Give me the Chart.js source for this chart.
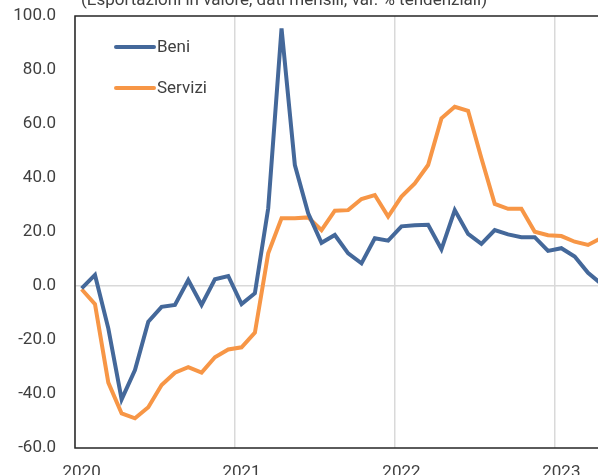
<!DOCTYPE html>
<html>
<head>
<meta charset="utf-8">
<script src="https://cdn.jsdelivr.net/npm/chart.js@4.4.1/dist/chart.umd.min.js"></script>
<style>
  html, body { margin: 0; padding: 0; background: #fff; overflow: hidden; width: 598px; height: 475px; }
  #wrap { position: absolute; left: 0; top: 0; width: 640px; height: 475px; }
</style>
</head>
<body>
<div id="wrap"><canvas id="chart" width="640" height="475"></canvas></div>
<script>
// monthly, Jan 2020 .. Apr 2023
const years = ['2020', '2021', '2022', '2023'];
const months = [];
years.forEach(y => { for (let m = 1; m <= 12; m++) months.push(y + '-' + String(m).padStart(2, '0')); });
months.length = 40;

const beni = [
  -0.9, 4.1, -15.7, -42.0, -31.1, -13.2, -7.7, -7.0, 2.2, -7.0, 2.5, 3.7,
  -6.7, -2.7, 28.8, 95.4, 44.8, 26.9, 16.0, 18.9, 12.1, 8.4, 17.7, 16.8,
  22.1, 22.5, 22.7, 13.6, 28.1, 19.3, 15.6, 20.7, 19.1, 18.1, 18.1, 13.0,
  14.0, 10.9, 4.9, 0.8
];
const servizi = [
  -1.2, -6.7, -35.8, -47.2, -49.0, -44.9, -36.7, -32.1, -30.1, -32.1, -26.4, -23.5,
  -22.7, -17.3, 12.1, 25.1, 25.1, 25.4, 20.7, 27.9, 28.1, 32.2, 33.7, 25.7,
  33.1, 38.0, 44.8, 62.1, 66.4, 64.9, 47.3, 30.4, 28.6, 28.6, 20.1, 18.8,
  18.5, 16.4, 15.2, 17.8
];
const titleText = '(Esportazioni in valore, dati mensili; var. % tendenziali)';

const BLUE = '#44689a';
const ORANGE = '#f79646';
const TEXT = '#404040';
const GRID = '#d9d9d9';
const FONT = 'Roboto, "Liberation Sans", sans-serif';

// title sits mostly above the canvas top, like in the cropped original
const titlePlugin = {
  id: 'cropTitle',
  afterDraw(chart) {
    const ctx = chart.ctx;
    ctx.save();
    ctx.fillStyle = TEXT;
    ctx.font = '17px ' + FONT;
    ctx.textAlign = 'left';
    ctx.textBaseline = 'alphabetic';
    ctx.fillText(titleText, 81, 5);
    ctx.restore();
  }
};

// legend drawn inside the plot, top-left
const innerLegend = {
  id: 'innerLegend',
  afterDraw(chart) {
    const ctx = chart.ctx;
    const a = chart.chartArea;
    ctx.save();
    ctx.font = '17px ' + FONT;
    ctx.textBaseline = 'middle';
    chart.data.datasets.forEach((ds, i) => {
      const y = a.top + 31 + i * 41;
      const x0 = a.left + 41;
      ctx.strokeStyle = ds.borderColor;
      ctx.lineWidth = 4;
      ctx.lineCap = 'round';
      ctx.beginPath();
      ctx.moveTo(x0, y);
      ctx.lineTo(x0 + 38, y);
      ctx.stroke();
      ctx.fillStyle = TEXT;
      ctx.fillText(ds.label, x0 + 41, y + 1);
    });
    ctx.restore();
  }
};

// full box around the plot area
const plotBox = {
  id: 'plotBox',
  beforeDatasetsDraw(chart) {
    const ctx = chart.ctx;
    const a = chart.chartArea;
    ctx.save();
    ctx.strokeStyle = '#262626';
    ctx.lineWidth = 1.5;
    ctx.strokeRect(a.left, a.top, a.right - a.left, a.bottom - a.top);
    ctx.restore();
  }
};

new Chart(document.getElementById('chart'), {
  type: 'line',
  data: {
    labels: months,
    datasets: [
      { label: 'Beni', data: beni, borderColor: BLUE, backgroundColor: BLUE, borderWidth: 4, pointRadius: 0, tension: 0 },
      { label: 'Servizi', data: servizi, borderColor: ORANGE, backgroundColor: ORANGE, borderWidth: 4, pointRadius: 0, tension: 0 }
    ]
  },
  options: {
    responsive: false,
    animation: false,
    layout: { padding: { top: 16, right: 32, left: 0, bottom: 0 } },
    plugins: { legend: { display: false }, tooltip: { enabled: false }, title: { display: false } },
    scales: {
      x: {
        type: 'category',
        offset: true,
        border: { display: false },
        grid: {
          offset: true,
          drawTicks: false,
          lineWidth: 1.5,
          color: (ctx) => (ctx.index % 12 === 0 ? GRID : 'rgba(0,0,0,0)')
        },
        ticks: {
          autoSkip: false,
          maxRotation: 0,
          padding: 15,
          color: TEXT,
          font: { family: FONT, size: 17 },
          callback: (v, i) => (i % 12 === 0 ? months[i].slice(0, 4) : '')
        },
        afterFit: (s) => { s.height = 27; s.paddingLeft = 0; s.paddingRight = 0; }
      },
      y: {
        min: -60,
        max: 100,
        border: { display: false },
        grid: {
          drawTicks: false,
          lineWidth: 1.5,
          color: (ctx) => (ctx.tick && ctx.tick.value === 0 ? GRID : 'rgba(0,0,0,0)')
        },
        ticks: {
          stepSize: 20,
          padding: 19,
          color: TEXT,
          font: { family: FONT, size: 17 },
          callback: (v) => v.toFixed(1)
        },
        // tick padding otherwise leaks into the top/bottom layout padding
        afterFit: (s) => { s.width = 75; s.paddingTop = 0; s.paddingBottom = 0; }
      }
    }
  },
  plugins: [plotBox, innerLegend, titlePlugin]
});
</script>
</body>
</html>
